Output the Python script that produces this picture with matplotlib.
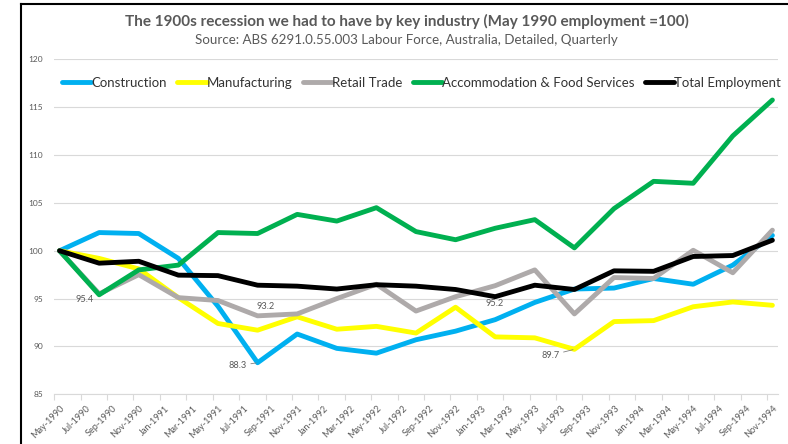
"""
Employment by key industry through the early 1990s recession,
indexed to May 1990 = 100 (ABS 6291.0.55.003, quarterly).
"""
import numpy as np
import pandas as pd
import matplotlib
matplotlib.use('Agg')
import matplotlib.pyplot as plt
from matplotlib.lines import Line2D

plt.rcParams['font.family'] = ['Lato', 'DejaVu Sans']

# quarterly observations, May-1990 .. Nov-1994
quarters = pd.date_range('1990-05-01', '1994-11-01', freq='3MS')
# axis labels every second month
tick_dates = pd.date_range('1990-05-01', '1994-11-01', freq='2MS')
tick_labels = [d.strftime('%b-%Y') for d in tick_dates]

construction = [100.0, 101.9, 101.8, 99.2, 94.2, 88.3, 91.3, 89.8, 89.3, 90.7,
                91.6, 92.8, 94.6, 96.0, 96.1, 97.1, 96.5, 98.5, 101.6]
manufacturing = [100.0, 99.2, 98.1, 95.1, 92.4, 91.7, 93.1, 91.8, 92.1, 91.4,
                 94.1, 91.0, 90.9, 89.7, 92.6, 92.7, 94.15, 94.65, 94.3]
retail_trade = [100.0, 95.5, 97.5, 95.1, 94.8, 93.2, 93.4, 95.0, 96.5, 93.7,
                95.2, 96.35, 98.0, 93.4, 97.2, 97.1, 100.05, 97.7, 102.15]
accommodation = [100.0, 95.4, 98.0, 98.5, 101.9, 101.8, 103.8, 103.1, 104.5, 102.0,
                 101.15, 102.35, 103.25, 100.3, 104.4, 107.25, 107.05, 112.0, 115.75]
total_employment = [100.0, 98.7, 98.9, 97.45, 97.4, 96.4, 96.3, 96.0, 96.45, 96.3,
                    95.95, 95.2, 96.4, 95.95, 97.9, 97.85, 99.4, 99.5, 101.1]

SERIES = [
    ('Construction', construction, '#00B0F0'),
    ('Manufacturing', manufacturing, '#FFFF00'),
    ('Retail Trade', retail_trade, '#AEAAAA'),
    ('Accommodation & Food Services', accommodation, '#00B050'),
    ('Total Employment', total_employment, '#000000'),
]

# (series, index, offset in pixels, leader line)
CALLOUTS = [
    (accommodation, 1, (-15, -5), False),
    (retail_trade, 5, (8, 9), False),
    (construction, 5, (-20, -3), True),
    (total_employment, 11, (-1, -7), False),
    (manufacturing, 13, (-24, -6), True),
]

TEXT = '#595959'
GRID = '#D9D9D9'


def months_since(dates, start):
    return np.array([(d.year - start.year) * 12 + d.month - start.month for d in dates], float)


def plot_industries(path='out.png'):
    start = quarters[0]
    x = months_since(quarters, start) + 0.4
    xt = months_since(tick_dates, start)

    fig = plt.figure(figsize=(7.88, 4.44), dpi=100)
    ax = fig.add_axes([0.0689, 0.1119, 0.9180, 0.7545])

    for name, vals, col in SERIES:
        ax.plot(x, vals, color=col, lw=3.5, label=name,
                solid_joinstyle='round', solid_capstyle='round')

    for vals, i, off, leader in CALLOUTS:
        kw = {}
        if leader:
            kw['arrowprops'] = dict(arrowstyle='-', color='#7F7F7F', lw=0.6,
                                    shrinkA=1, shrinkB=1)
        ax.annotate(f'{vals[i]:.1f}', (x[i], vals[i]), xytext=off,
                    textcoords='offset pixels', ha='center', va='center',
                    fontsize=6.6, color=TEXT, **kw)

    ax.set_ylim(85, 120)
    ax.set_yticks(np.arange(85, 121, 5))
    ax.set_xlim(0, 54.8)
    ax.set_xticks(xt)
    ax.set_xticklabels([])
    ax.set_xticks(xt + 0.65, minor=True)
    ax.set_xticklabels(tick_labels, minor=True, rotation=45, ha='right',
                       va='center', rotation_mode='anchor')
    ax.tick_params(axis='x', which='major', length=4, color=GRID, width=0.8)
    ax.tick_params(axis='x', which='minor', length=0, pad=9, labelsize=6.6,
                   labelcolor=TEXT)
    ax.tick_params(axis='y', length=0, pad=8, labelsize=6.0, labelcolor=TEXT)

    ax.grid(axis='y', color=GRID, lw=0.8)
    ax.set_axisbelow(True)
    for s in ['top', 'right', 'left']:
        ax.spines[s].set_visible(False)
    ax.spines['bottom'].set_color(GRID)
    ax.spines['bottom'].set_linewidth(0.8)

    fig.text(0.517, 0.951, 'The 1900s recession we had to have by key industry '
             '(May 1990 employment =100)', ha='center', va='center',
             fontsize=11.0, fontweight='bold', color=TEXT)
    fig.text(0.516, 0.911, 'Source: ABS 6291.0.55.003 Labour Force, Australia, '
             'Detailed, Quarterly', ha='center', va='center',
             fontsize=9.6, color=TEXT)

    fig.legend(loc='center', bbox_to_anchor=(0.535, 0.813), ncol=5,
               frameon=False, fontsize=9.5, handlelength=2.2, handletextpad=0.0,
               columnspacing=0.8, labelcolor='#333333')

    # outer chart border (only top and left edges fall inside the image)
    fig.add_artist(Line2D([21 / 788, 1.0], [1 - 4.5 / 444] * 2, color='black', lw=1.5))
    fig.add_artist(Line2D([21 / 788] * 2, [0.0, 1 - 4.5 / 444], color='black', lw=1.5))

    fig.savefig(path, dpi=100)
    plt.close(fig)


if __name__ == '__main__':
    plot_industries()
